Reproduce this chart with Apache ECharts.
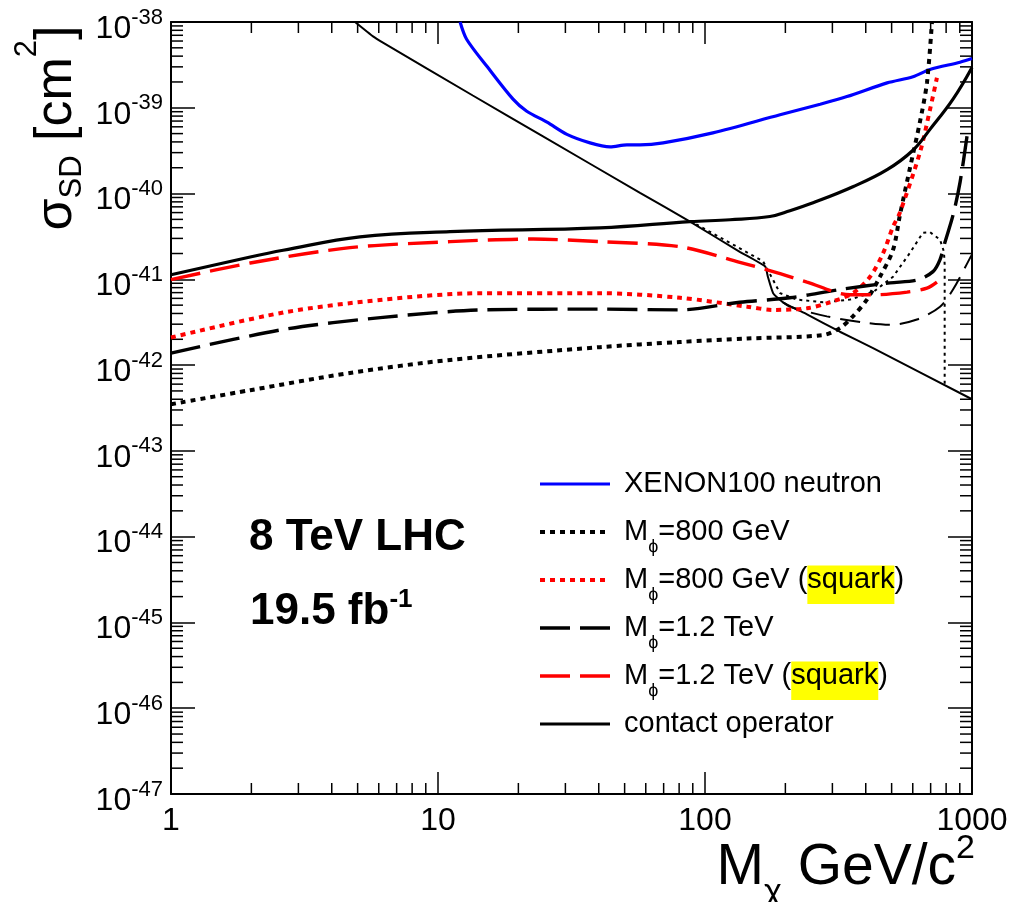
<!DOCTYPE html>
<html>
<head>
<meta charset="utf-8">
<script src="https://cdn.jsdelivr.net/npm/echarts@6.0.0/dist/echarts.min.js"></script>
<style>
html,body{margin:0;padding:0;background:#fff;}
#chart{width:1027px;height:902px;}
</style>
</head>
<body>
<div id="chart"></div>
<script>
const FONT = '"Liberation Sans", Arial, Helvetica, "DejaVu Sans", sans-serif';

// axis ranges and tick labels
const X_MIN = 1, X_MAX = 1000;
const xMajorTicks = [1, 10, 100, 1000];
const yMajorExponents = [-47, -46, -45, -44, -43, -42, -41, -40, -39, -38];
const minorMultipliers = [2, 3, 4, 5, 6, 7, 8, 9];

// legend names
const legendNames = [
  'XENON100 neutron',
  'Mϕ=800 GeV',
  'Mϕ=800 GeV (squark)',
  'Mϕ=1.2 TeV',
  'Mϕ=1.2 TeV (squark)',
  'contact operator'
];

// series values  [M_chi (GeV/c^2), sigma_SD (cm^2)]
const xenonNeutron = [
  [12.1, 1.0e-38], [12.8, 6.3e-39], [15.3, 3.0e-39], [19.1, 1.26e-39], [21.5, 9.1e-40],
  [25.6, 6.8e-40], [30.4, 4.9e-40], [37.1, 3.9e-40], [44.1, 3.5e-40], [51.0, 3.7e-40],
  [57.1, 3.7e-40], [69.7, 3.9e-40], [107, 5.1e-40], [191, 8.3e-40], [270, 1.1e-39],
  [340, 1.35e-39], [481, 1.95e-39], [601, 2.3e-39], [696, 2.8e-39], [902, 3.4e-39], [1000, 3.75e-39]
];
const mphi800 = [
  [1, 3.5e-43], [1.98, 5.1e-43], [4.68, 8.1e-43], [11.1, 1.15e-42], [40.4, 1.62e-42],
  [80.6, 1.86e-42], [144, 2.04e-42], [277, 2.24e-42], [320, 2.7e-42], [358, 3.7e-42],
  [404, 5.8e-42], [452, 1.07e-41], [506, 2.2e-41], [537, 5.6e-41], [586, 2.0e-40],
  [638, 6.8e-40], [678, 1.95e-39], [708, 1.0e-38]
];
const mphi800Squark = [
  [1, 2.1e-42], [2.63, 4.1e-42], [6.22, 5.8e-42], [14.7, 6.9e-42], [40.4, 6.9e-42],
  [80.6, 6.1e-42], [144, 4.8e-42], [180, 4.4e-42], [241, 4.6e-42], [294, 5.4e-42],
  [358, 6.9e-42], [415, 1.07e-41], [464, 2.0e-41], [506, 4.1e-41], [537, 6.0e-41],
  [638, 3.0e-40], [696, 9.5e-40], [739, 2.24e-39]
];
const mphi1200 = [
  [1, 1.38e-42], [2.63, 2.6e-42], [6.22, 3.6e-42], [14.7, 4.4e-42], [40.4, 4.5e-42],
  [80.6, 4.4e-42], [135, 5.4e-42], [208, 6.1e-42], [320, 7.6e-42], [493, 9.1e-42],
  [622, 9.8e-42], [714, 1.23e-41], [759, 1.7e-41], [792, 2.7e-41], [849, 5.6e-41],
  [902, 1.35e-40], [966, 5.6e-40]
];
const mphi1200Squark = [
  [1, 9.9e-42], [1.98, 1.55e-41], [4.68, 2.34e-41], [11.1, 2.75e-41], [22.7, 2.95e-41],
  [40.4, 2.75e-41], [80.6, 2.4e-41], [135, 1.58e-41], [180, 1.23e-41], [241, 9.3e-42],
  [349, 6.6e-42], [426, 6.6e-42], [571, 7.1e-42], [678, 7.9e-42], [739, 9.3e-42]
];
const contactOperator = [
  [1, 1.13e-41], [1.98, 1.82e-41], [2.63, 2.18e-41], [5.1, 3.13e-41], [11.1, 3.6e-41],
  [40.4, 3.98e-41], [87.9, 4.7e-41], [124, 4.95e-41], [175, 5.4e-41], [208, 6.3e-41],
  [254, 7.8e-41], [358, 1.2e-40], [481, 1.9e-40], [601, 3.2e-40], [696, 5.6e-40],
  [849, 1.26e-39], [1000, 2.95e-39]
];
// thin (unlabelled) curves
const thinSolid = [
  [4.89, 1.0e-38], [5.71, 6.8e-39], [6.22, 5.75e-39], [13.5, 1.39e-39], [24.1, 4.86e-40],
  [57.1, 1.02e-40], [87.9, 4.7e-41], [135, 2.09e-41], [168, 1.41e-41],
  [172, 1.07e-41], [180, 6.9e-42], [196, 5.4e-42], [241, 3.9e-42], [320, 2.45e-42],
  [426, 1.58e-42], [1000, 4.0e-43]
];
const thinDotted = [
  [87.9, 4.8e-41], [135, 2.3e-41], [165, 1.62e-41], [180, 9.8e-42], [191, 6.9e-42],
  [221, 5.8e-42], [277, 5.4e-42], [349, 5.8e-42], [426, 7.1e-42], [506, 1.07e-41],
  [586, 2.04e-41], [655, 3.5e-41], [696, 3.55e-41], [759, 2.9e-41], [785, 2.1e-41],
  [790, 1.5e-41], [790, 5.9e-43]
];
const thinDashed = [
  [196, 5.4e-42], [208, 4.8e-42], [286, 3.7e-42], [404, 3.1e-42], [493, 2.95e-42],
  [622, 3.4e-42], [759, 4.8e-42], [849, 7.6e-42], [984, 1.78e-41], [1000, 1.95e-41]
];

// ECharts' log axis rounds tick values to 10 decimals, so the y axis works in
// units of 1e-47 cm^2 (axis value 1 == 1e-47 cm^2); labels show the real exponent.
const Y_UNIT_EXP = -47;
const toAxis = v => v * Math.pow(10, -Y_UNIT_EXP);
const conv = arr => arr.map(p => [p[0], toAxis(p[1])]);

// minor tick values
const xMinorTicks = [];
xMajorTicks.slice(0, -1).forEach(d => minorMultipliers.forEach(m => xMinorTicks.push(m * d)));
const yMinorTicks = [];
yMajorExponents.slice(0, -1).forEach(e => minorMultipliers.forEach(m => yMinorTicks.push(m * Math.pow(10, e - Y_UNIT_EXP))));
const yAxisMin = Math.pow(10, yMajorExponents[0] - Y_UNIT_EXP);
const yAxisMax = Math.pow(10, yMajorExponents[yMajorExponents.length - 1] - Y_UNIT_EXP);

function lineSeries(name, data, color, width, type, smooth) {
  return {
    type: 'line', name: name, data: conv(data), symbol: 'none', showSymbol: false,
    smooth: smooth, animation: false, silent: true,
    lineStyle: {color: color, width: width, type: type, cap: 'butt'},
    itemStyle: {color: color}
  };
}

const axisLineStyle = {show: true, lineStyle: {color: '#000', width: 2}};
const majorTick = (len) => ({show: true, inside: true, length: len, lineStyle: {color: '#000', width: 1.5}});

const chart = echarts.init(document.getElementById('chart'), null, {renderer: 'canvas'});

chart.setOption({
  animation: false,
  backgroundColor: '#fff',
  grid: {left: 171, right: 55, top: 22, bottom: 108, containLabel: false},
  xAxis: [
    {
      type: 'log', logBase: 10, min: X_MIN, max: X_MAX, position: 'bottom',
      axisLine: axisLineStyle, axisTick: majorTick(22), minorTick: {show: false},
      splitLine: {show: false},
      axisLabel: {
        show: true, margin: 11, color: '#000', fontSize: 32, fontFamily: FONT,
        formatter: v => String(Math.round(v)), showMinLabel: true, showMaxLabel: true
      }
    },
    {
      type: 'log', logBase: 10, min: X_MIN, max: X_MAX, position: 'top',
      axisLine: axisLineStyle, axisTick: majorTick(22), minorTick: {show: false},
      splitLine: {show: false}, axisLabel: {show: false}
    }
  ],
  yAxis: [
    {
      type: 'log', logBase: 10, min: yAxisMin, max: yAxisMax, position: 'left',
      axisLine: axisLineStyle, axisTick: majorTick(24), minorTick: {show: false},
      splitLine: {show: false},
      axisLabel: {
        show: true, margin: 8, padding: [14, 0, 0, 0], showMinLabel: true, showMaxLabel: true,
        formatter: v => '{b|10}{e|' + (Math.round(Math.log10(v)) + Y_UNIT_EXP) + '}',
        rich: {
          b: {fontSize: 32, lineHeight: 45, fontFamily: FONT, color: '#000'},
          e: {fontSize: 22, lineHeight: 22, verticalAlign: 'top', fontFamily: FONT, color: '#000'}
        }
      }
    },
    {
      type: 'log', logBase: 10, min: yAxisMin, max: yAxisMax, position: 'right',
      axisLine: axisLineStyle, axisTick: majorTick(24), minorTick: {show: false},
      splitLine: {show: false}, axisLabel: {show: false}
    }
  ],
  legend: {
    orient: 'vertical', left: 538, top: 460, padding: 0,
    itemWidth: 70, itemHeight: 20, itemGap: 0, selectedMode: false,
    data: legendNames,
    itemStyle: {opacity: 0},
    lineStyle: {width: 'inherit'},
    formatter: name => name.replace('Mϕ', 'M{sub|ϕ}').replace('squark', '{sq|squark}'),
    textStyle: {
      fontSize: 29, fontFamily: FONT, color: '#000', lineHeight: 48, padding: [0, 0, 0, 9],
      rich: {
        sub: {fontSize: 18, lineHeight: 19, verticalAlign: 'bottom', fontFamily: FONT, color: '#000'},
        sq: {fontSize: 29, verticalAlign: 'bottom', padding: [0, 0, 9.5, 0], backgroundColor: '#ffff00', fontFamily: FONT, color: '#000'}
      }
    }
  },
  series: [
    lineSeries('thin solid', thinSolid, '#000', 2, 'solid', 0.15),
    lineSeries('thin dotted', thinDotted, '#000', 2, [3, 4], false),
    lineSeries('thin dashed', thinDashed, '#000', 2, [20, 10], 0.3),
    lineSeries(legendNames[0], xenonNeutron, '#0000ff', 3.2, 'solid', 0.3),
    lineSeries(legendNames[1], mphi800, '#000', 4, [5, 5], 0.3),
    lineSeries(legendNames[2], mphi800Squark, '#ff0000', 4, [5, 5], 0.3),
    lineSeries(legendNames[3], mphi1200, '#000', 3.4, [30, 10], 0.3),
    lineSeries(legendNames[4], mphi1200Squark, '#ff0000', 3.4, [30, 10], 0.3),
    lineSeries(legendNames[5], contactOperator, '#000', 3.2, 'solid', 0.4),
    {
      type: 'custom', name: 'x minor ticks', silent: true, clip: false, animation: false,
      data: xMinorTicks.map(v => [v, yAxisMin]),
      renderItem: (params, api) => {
        const v = api.value(0);
        const b = api.coord([v, yAxisMin]);
        const t = api.coord([v, yAxisMax]);
        return {type: 'group', children: [
          {type: 'line', shape: {x1: b[0], y1: b[1], x2: b[0], y2: b[1] - 11}, style: {stroke: '#000', lineWidth: 1.5}},
          {type: 'line', shape: {x1: t[0], y1: t[1], x2: t[0], y2: t[1] + 11}, style: {stroke: '#000', lineWidth: 1.5}}
        ]};
      }
    },
    {
      type: 'custom', name: 'y minor ticks', silent: true, clip: false, animation: false,
      data: yMinorTicks.map(v => [X_MIN, v]),
      renderItem: (params, api) => {
        const v = api.value(1);
        const l = api.coord([X_MIN, v]);
        const r = api.coord([X_MAX, v]);
        return {type: 'group', children: [
          {type: 'line', shape: {x1: l[0], y1: l[1], x2: l[0] + 12, y2: l[1]}, style: {stroke: '#000', lineWidth: 1.5}},
          {type: 'line', shape: {x1: r[0], y1: r[1], x2: r[0] - 12, y2: r[1]}, style: {stroke: '#000', lineWidth: 1.5}}
        ]};
      }
    }
  ],
  graphic: [
    {
      type: 'text', x: 57, y: 128, rotation: Math.PI / 2,
      style: {
        text: '{m|σ}{sub|SD}{m| [cm}{sup|2}{m|]}',
        align: 'center', verticalAlign: 'middle',
        rich: {
          m: {fontSize: 52, lineHeight: 90, fontFamily: FONT, fill: '#000'},
          sub: {fontSize: 31, verticalAlign: 'top', padding: [45, 0, 0, 0], fontFamily: FONT, fill: '#000'},
          sup: {fontSize: 31, lineHeight: 31, verticalAlign: 'top', fontFamily: FONT, fill: '#000'}
        }
      }
    },
    {
      type: 'text', x: 975, y: 868,
      style: {
        text: '{m|M}{sub|χ}{m| GeV/c}{sup|2}',
        align: 'right', verticalAlign: 'middle',
        rich: {
          m: {fontSize: 57, lineHeight: 84, fontFamily: FONT, fill: '#000'},
          sub: {fontSize: 34, lineHeight: 46, verticalAlign: 'bottom', fontFamily: FONT, fill: '#000'},
          sup: {fontSize: 34, lineHeight: 34, verticalAlign: 'top', padding: [6, 0, 0, 0], fontFamily: FONT, fill: '#000'}
        }
      }
    },
    {
      type: 'text', x: 249, y: 538,
      style: {text: '8 TeV LHC', font: 'bold 44px ' + FONT, fill: '#000', align: 'left', verticalAlign: 'middle'}
    },
    {
      type: 'text', x: 250, y: 612,
      style: {
        text: '{m|19.5 fb}{sup|-1}', align: 'left', verticalAlign: 'middle',
        rich: {
          m: {fontSize: 44, fontWeight: 'bold', lineHeight: 51, fontFamily: FONT, fill: '#000'},
          sup: {fontSize: 26, fontWeight: 'bold', lineHeight: 26, verticalAlign: 'top', fontFamily: FONT, fill: '#000'}
        }
      }
    }
  ]
});
</script>
</body>
</html>
